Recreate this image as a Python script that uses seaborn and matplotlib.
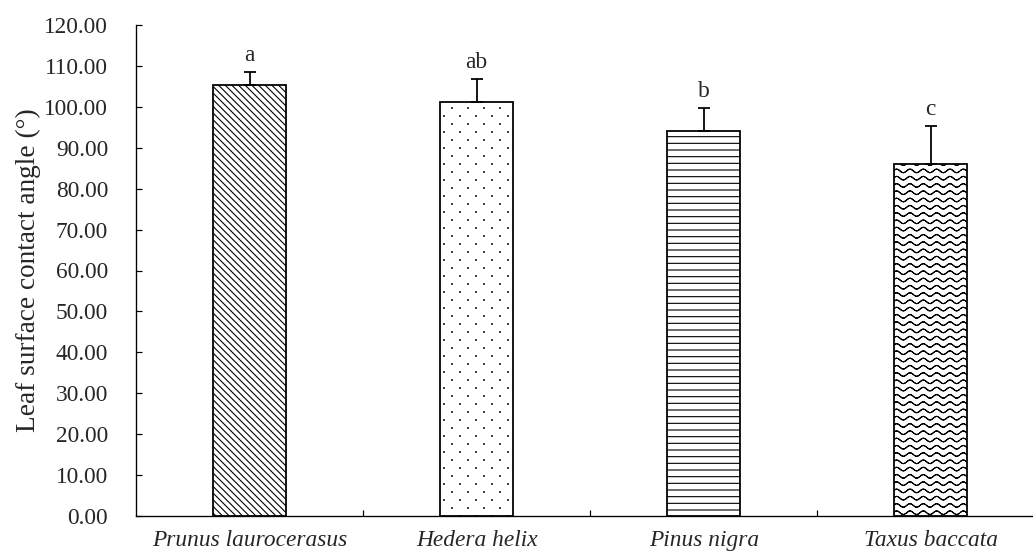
import warnings

import numpy as np
import pandas as pd
import matplotlib
matplotlib.use("Agg")
import matplotlib.pyplot as plt
import matplotlib.hatch as mhatch
from matplotlib.path import Path
import seaborn as sns

# ---------------------------------------------------------------- data
species = ["Prunus laurocerasus", "Hedera helix", "Pinus nigra", "Taxus baccata"]
contact_angle = [105.3, 101.3, 94.0, 86.0]        # mean, degrees
contact_angle_sd = [3.2, 5.4, 5.8, 9.3]           # standard deviation
group_letters = ["a", "ab", "b", "c"]
y_ticks = [0, 10, 20, 30, 40, 50, 60, 70, 80, 90, 100, 110, 120]

warnings.filterwarnings("ignore", message="hatch must consist")


# ------------------------------------------------- extra fill patterns
class WaveHatch(mhatch.HatchPatternBase):
    """'~': rows of small waves, made of separate straight segments."""
    n_rows, n_periods, n_steps, amplitude = 11, 6, 72, 0.022

    def __init__(self, hatch, density):
        self.num_vertices = self.n_rows * self.n_steps * 2 if "~" in hatch else 0

    def set_vertices_and_codes(self, vertices, codes):
        x = np.linspace(0.0, 1.0, self.n_steps + 1)
        segs = []
        for r in range(self.n_rows):
            y = (r + 0.5) / self.n_rows + self.amplitude * np.sin(
                2 * np.pi * self.n_periods * x)
            pts = np.column_stack([x, y])
            segs.append(np.stack([pts[:-1], pts[1:]], axis=1).reshape(-1, 2))
        vertices[:] = np.concatenate(segs)
        codes[0::2] = Path.MOVETO
        codes[1::2] = Path.LINETO


class StaggeredDots(mhatch.HatchPatternBase):
    """':': small filled dots on a staggered grid."""
    n_cols, n_rows, radius = 5, 10, 0.005

    def __init__(self, hatch, density):
        circle = Path.unit_circle()
        self.cv, self.cc = circle.vertices, circle.codes
        self.num_vertices = len(self.cv) * self.n_cols * self.n_rows if ":" in hatch else 0

    def set_vertices_and_codes(self, vertices, codes):
        n = len(self.cv)
        k = 0
        for r in range(self.n_rows):
            y = (r + 0.5) / self.n_rows
            shift = 0.5 if r % 2 else 0.0
            for c in range(self.n_cols):
                x = (c + 0.25 + shift) / self.n_cols
                vertices[k:k + n] = self.cv * self.radius + (x, y)
                codes[k:k + n] = self.cc
                k += n


mhatch._hatch_types.extend([WaveHatch, StaggeredDots])

# --------------------------------------------------------------- style
sns.set_style("ticks")
plt.rcParams["font.family"] = ["Liberation Serif", "DejaVu Serif"]
plt.rcParams["hatch.linewidth"] = 1.0
plt.rcParams["hatch.color"] = "black"

DPI = 80
W, H = 1033, 556
fig = plt.figure(figsize=(W / DPI, H / DPI), dpi=DPI)
ax = fig.add_axes([136 / W, 40 / H, (W - 136) / W, (516 - 25) / H])

df = pd.DataFrame({"species": species, "angle": contact_angle})
sns.barplot(data=df, x="species", y="angle", order=species, width=0.32,
            color="white", edgecolor="black", linewidth=1.6,
            errorbar=None, ax=ax)

fills = ["\\\\\\\\", ":", "--", "~"]
for patch, fill in zip(ax.patches, fills):
    patch.set_facecolor("white")
    patch.set_hatch(fill)

centers = [p.get_x() + p.get_width() / 2 for p in ax.patches]
ax.errorbar(centers, contact_angle,
            yerr=[np.zeros(len(contact_angle)), contact_angle_sd],
            fmt="none", ecolor="black", elinewidth=1.6, capsize=5.4,
            capthick=1.6, zorder=3)

fs = 21
for x, m, s, lab in zip(centers, contact_angle, contact_angle_sd, group_letters):
    ax.annotate(lab, (x, m + s), xytext=(0, 10), textcoords="offset points",
                ha="center", va="baseline", fontsize=fs)

# ---------------------------------------------------------------- axes
ax.set_xlim(-0.5, 3.45)
ax.set_ylim(0, 120)
ax.set_yticks(y_ticks)
ax.set_yticklabels([f"{v:.2f}" for v in y_ticks], fontsize=fs)
ax.set_xticks(range(len(species)))
ax.set_xticklabels(species, fontsize=fs, fontstyle="italic")
ax.set_xticks([0.5, 1.5, 2.5], minor=True)
ax.tick_params(axis="x", which="major", length=0, pad=12.5)
ax.tick_params(axis="x", which="minor", direction="in", length=5.4,
               width=1.1, color="black")
ax.tick_params(axis="y", direction="in", length=5.4, width=1.1,
               color="black", pad=25)
ax.set_xlabel("")
ax.set_ylabel("Leaf surface contact angle (°)", fontsize=24.5, va="center")
ax.yaxis.set_label_coords(-108 / (W - 136), 0.5)

for side in ("top", "right"):
    ax.spines[side].set_visible(False)
for side in ("left", "bottom"):
    ax.spines[side].set_linewidth(1.2)
    ax.spines[side].set_color("black")

fig.savefig("out.png", dpi=DPI, facecolor="white")
